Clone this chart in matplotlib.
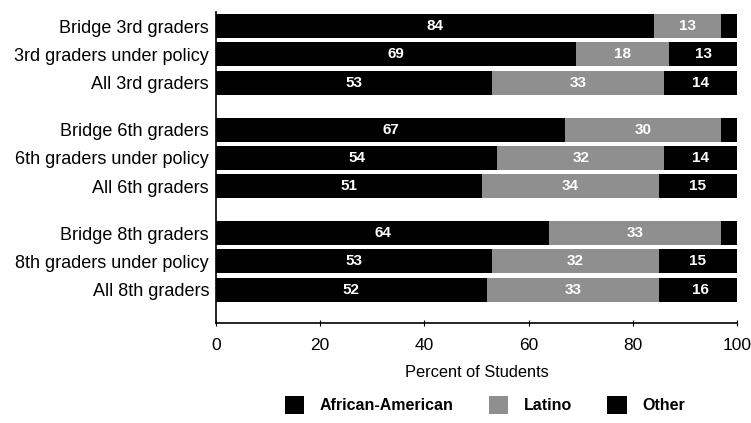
import numpy as np
import matplotlib
matplotlib.use("Agg")
import matplotlib.pyplot as plt
from matplotlib.patches import Patch

plt.rcParams['font.family'] = ['Liberation Sans', 'DejaVu Sans']

labels = [
    "Bridge 3rd graders", "3rd graders under policy", "All 3rd graders",
    "Bridge 6th graders", "6th graders under policy", "All 6th graders",
    "Bridge 8th graders", "8th graders under policy", "All 8th graders",
]
african_american = [84, 69, 53, 67, 54, 51, 64, 53, 52]
latino = [13, 18, 33, 30, 32, 34, 33, 32, 33]
other = [3, 13, 14, 3, 14, 15, 3, 15, 16]
# bridge rows have no label on the small "other" segment
other_shown = [False, True, True, False, True, True, False, True, True]

series = [("African-American", african_american, "#000000"),
          ("Latino", latino, "#8f8f8f"),
          ("Other", other, "#000000")]

# three groups of three bars, with a gap between groups
pos = []
for g in range(3):
    for i in range(3):
        pos.append(g * 3.67 + i)
pos = np.array(pos)

fig = plt.figure(figsize=(7.51, 4.23), dpi=100)
ax = fig.add_axes([0.2876, 0.2364, 0.6938, 0.7352])

left = np.zeros(len(labels))
for k, (name, vals, col) in enumerate(series):
    vals = np.array(vals, dtype=float)
    ax.barh(pos, vals, left=left, height=0.85, color=col, edgecolor='none')
    for j, v in enumerate(vals):
        if k == 2 and not other_shown[j]:
            continue
        ax.text(left[j] + v / 2, pos[j], str(int(v)), ha='center', va='center',
                color='white', fontsize=11, fontweight='bold')
    left += vals

ax.set_xlim(0, 100)
ax.set_ylim(pos[-1] + 1.18, pos[0] - 0.5)
ax.set_yticks(pos)
ax.set_yticklabels(labels, fontsize=13)
ax.set_xticks(np.arange(0, 101, 20))
ax.tick_params(axis='x', labelsize=12.5, direction='inout', length=5, pad=8)
ax.tick_params(axis='y', length=0, pad=5)
ax.spines['top'].set_visible(False)
ax.spines['right'].set_visible(False)
ax.spines['left'].set_linewidth(1.2)
ax.spines['bottom'].set_linewidth(1.2)
ax.set_xlabel("Percent of Students", fontsize=11.8, labelpad=9)

handles = [Patch(facecolor=c, edgecolor='none', label=n) for n, _, c in series]
leg = fig.legend(handles=handles, loc='center', bbox_to_anchor=(485 / 751, 1 - 405 / 423),
                 ncol=3, frameon=False, handlelength=1.2, handleheight=1.3,
                 columnspacing=2.2, handletextpad=1.0,
                 prop={'size': 11.5, 'weight': 'bold'})

fig.savefig("out.png", dpi=100)
